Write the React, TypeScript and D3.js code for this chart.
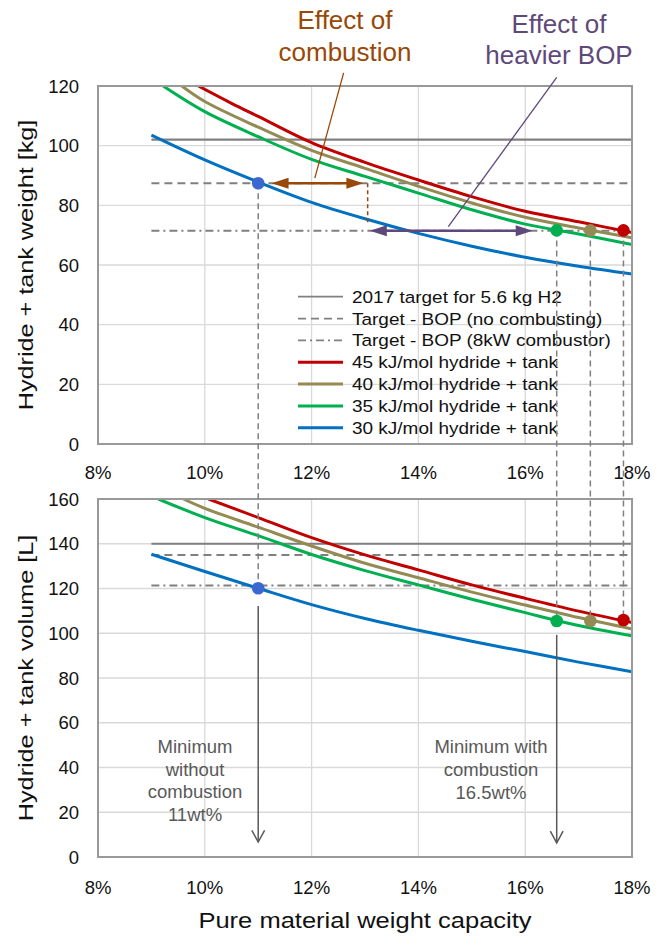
import React from "react";
import * as d3 from "d3";

// ---- data ----
const xTicks = [8, 10, 12, 14, 16, 18];
const weightTicks = [0, 20, 40, 60, 80, 100, 120];
const volumeTicks = [0, 20, 40, 60, 80, 100, 120, 140, 160];

const seriesNames = [
  "45 kJ/mol hydride + tank",
  "40 kJ/mol hydride + tank",
  "35 kJ/mol hydride + tank",
  "30 kJ/mol hydride + tank",
];
const targetNames = [
  "2017 target for 5.6 kg H2",
  "Target - BOP (no combusting)",
  "Target - BOP (8kW combustor)",
];

// weight capacity (%) -> hydride + tank weight (kg)
const weight45X = [9.88, 10.5, 11, 12, 13, 14, 15, 16, 17, 18];
const weight45 = [120, 114.2, 109.8, 101.0, 94.4, 88.5, 82.9, 78.0, 74.5, 70.9];
const weight40X = [9.57, 10, 11, 12, 13, 14, 15, 16, 17, 18];
const weight40 = [120, 114.8, 106.2, 98.4, 92.4, 86.4, 80.8, 76.0, 72.4, 69.1];
const weight35X = [9.22, 10, 11, 12, 13, 14, 15, 16, 17, 18];
const weight35 = [120, 111.4, 103, 95.4, 89.7, 84.1, 78.5, 73.7, 70.4, 66.9];
const weight30X = [9, 10, 11, 12, 13, 14, 15, 16, 17, 18];
const weight30 = [103.5, 95.2, 87.8, 81.0, 75.5, 70.6, 66.3, 62.6, 59.6, 57.0];

// weight capacity (%) -> hydride + tank volume (L)
const volume45X = [10.07, 11, 12, 13, 14, 15, 16, 17, 18];
const volume45 = [160, 151.7, 142.7, 135.0, 128.3, 121.6, 115.6, 109.9, 104.8];
const volume40X = [9.6, 10, 11, 12, 13, 14, 15, 16, 17, 18];
const volume40 = [160, 155.8, 147.4, 139.0, 131.3, 124.8, 118.4, 112.6, 107.0, 101.9];
const volume35X = [9.13, 10, 11, 12, 13, 14, 15, 16, 17, 18];
const volume35 = [160, 151.7, 143.6, 135.2, 128.0, 121.6, 115.2, 109.2, 103.5, 98.9];
const volume30X = [9, 10, 11, 12, 13, 14, 15, 16, 17, 18];
const volume30 = [135.3, 127.6, 120.1, 112.8, 106.6, 101.3, 96.4, 91.8, 87.1, 82.8];

// targets (start at 9%, end at 18%)
const targetRange = [9, 18];
const weightTargets = [102, 87.4, 71.5];
const volumeTargets = [140, 135, 121.3];

// minimum points (45, 40, 35, 30 kJ/mol)
const minX = [17.84, 17.22, 16.59, 11];
const minWeight = [71.6, 71.6, 71.6, 87.4];
const minVolume = [105.9, 105.5, 105.5, 120.1];

// annotations (data units)
const combustionArrow = [11.25, 12.97, 87.4];
const combustionDrop = [13.05, 87.4, 73.8];
const combustionLeader = [12.06, 89.1, 12.6, 124.4];
const bopArrow = [13.09, 16.14, 71.5];
const bopLeader = [14.56, 72.9, 16.59, 122.9];
const downArrows = [
  [11, 112.2, 6.7],
  [16.59, 99.3, 6.3],
];

// ---- styling ----
const W = 667;
const H = 936;
const FONT = "'Liberation Sans', Arial, sans-serif";
const colors = ["#C00000", "#948A54", "#00B050", "#0070C0"];
const dotColors = ["#C00000", "#948A54", "#00B050", "#3B68D0"];
const targetDash = [null, "8,5", "8,4,2,4"];
const GRID = "#D9D9D9";
const TGT = "#808080";
const BROWN = "#984807";
const PURPLE = "#5F497A";
const NOTE = "#595959";

const x = d3.scaleLinear().domain([8, 18]).range([98, 632]);
const yW = d3.scaleLinear().domain([0, 120]).range([444, 86]);
const yV = d3.scaleLinear().domain([0, 160]).range([857, 499]);

const line = (xs, ys, y) =>
  d3
    .line()
    .x((d) => x(d[0]))
    .y((d) => y(d[1]))
    .curve(d3.curveCatmullRom.alpha(0.5))(xs.map((v, i) => [v, ys[i]]));

function Panel({ y, ticks, title, curvesX, curvesY, targets, tickY, id }) {
  const [y0, y1] = y.range();
  return (
    <g>
      <defs>
        <clipPath id={id}>
          <rect x={x(8)} y={y1} width={x(18) - x(8)} height={y0 - y1} />
        </clipPath>
      </defs>
      {xTicks.map((t) => (
        <line key={"gx" + t} x1={x(t)} x2={x(t)} y1={y0} y2={y1} stroke={GRID} strokeWidth={1.3} />
      ))}
      {ticks.map((t) => (
        <line key={"gy" + t} x1={x(8)} x2={x(18)} y1={y(t)} y2={y(t)} stroke={GRID} strokeWidth={1.3} />
      ))}
      {targets.map((v, i) => (
        <line
          key={"t" + i}
          x1={x(targetRange[0])}
          x2={x(targetRange[1])}
          y1={y(v)}
          y2={y(v)}
          stroke={TGT}
          strokeWidth={i === 0 ? 2.2 : 2}
          strokeDasharray={targetDash[i] || undefined}
        />
      ))}
      <g clipPath={`url(#${id})`}>
        {curvesX.map((xs, i) => (
          <path key={"c" + i} d={line(xs, curvesY[i], y)} fill="none" stroke={colors[i]} strokeWidth={3} />
        ))}
      </g>
      <rect x={x(8)} y={y1} width={x(18) - x(8)} height={y0 - y1} fill="none" stroke="#999" strokeWidth={2} />
      {ticks.map((t) => (
        <text key={"ly" + t} x={79} y={y(t) + 6.5} textAnchor="end" fontSize={18.5} fill="#111">
          {t}
        </text>
      ))}
      {xTicks.map((t) => (
        <text key={"lx" + t} x={x(t)} y={tickY} textAnchor="middle" fontSize={18.5} fill="#111">
          {t + "%"}
        </text>
      ))}
      <text
        transform={`translate(33,${(y0 + y1) / 2}) rotate(-90) scale(1.2,1)`}
        textAnchor="middle"
        fontSize={21}
        fill="#111"
      >
        {title}
      </text>
    </g>
  );
}

function DoubleArrow({ x1, x2, yy, color }) {
  const a = x(x1);
  const b = x(x2);
  const hl = 17;
  const hw = 5.5;
  return (
    <g fill={color}>
      <line x1={a + hl - 2} x2={b - hl + 2} y1={yy} y2={yy} stroke={color} strokeWidth={2.5} />
      <polygon points={`${a},${yy} ${a + hl},${yy - hw} ${a + hl},${yy + hw}`} />
      <polygon points={`${b},${yy} ${b - hl},${yy - hw} ${b - hl},${yy + hw}`} />
    </g>
  );
}

export default function App() {
  const weightX = [weight45X, weight40X, weight35X, weight30X];
  const weightY = [weight45, weight40, weight35, weight30];
  const volumeX = [volume45X, volume40X, volume35X, volume30X];
  const volumeY = [volume45, volume40, volume35, volume30];
  const legend = [...targetNames, ...seriesNames];

  return (
    <svg
      width={W}
      height={H}
      style={{ position: "absolute", left: 0, top: 0, background: "#fff" }}
      fontFamily={FONT}
    >
      <rect width={W} height={H} fill="#fff" />
      <Panel
        id="clipW"
        y={yW}
        ticks={weightTicks}
        title="Hydride + tank weight [kg]"
        curvesX={weightX}
        curvesY={weightY}
        targets={weightTargets}
        tickY={479}
      />
      <Panel
        id="clipV"
        y={yV}
        ticks={volumeTicks}
        title="Hydride + tank volume [L]"
        curvesX={volumeX}
        curvesY={volumeY}
        targets={volumeTargets}
        tickY={894}
      />

      {/* legend */}
      {legend.map((name, i) => {
        const cy = 296.7 + i * 21.85;
        const isTarget = i < 3;
        return (
          <g key={"lg" + i}>
            <line
              x1={298}
              x2={343}
              y1={cy}
              y2={cy}
              stroke={isTarget ? TGT : colors[i - 3]}
              strokeWidth={isTarget ? 1.8 : 3}
              strokeDasharray={isTarget ? targetDash[i] || undefined : undefined}
            />
            <text transform={`translate(352,${cy + 6}) scale(1.15,1)`} fontSize={16.5} fill="#111">
              {name}
            </text>
          </g>
        );
      })}

      {/* drop lines between the panels */}
      {minX.map((v, i) => (
        <line
          key={"dl" + i}
          x1={x(v)}
          x2={x(v)}
          y1={yW(minWeight[i])}
          y2={yV(minVolume[i])}
          stroke={TGT}
          strokeWidth={1.5}
          strokeDasharray="6,4"
        />
      ))}

      {/* effect of combustion */}
      <line
        x1={x(combustionDrop[0])}
        x2={x(combustionDrop[0])}
        y1={yW(combustionDrop[1])}
        y2={yW(combustionDrop[2])}
        stroke={BROWN}
        strokeWidth={1.5}
        strokeDasharray="4,3"
      />
      <DoubleArrow x1={combustionArrow[0]} x2={combustionArrow[1]} yy={yW(combustionArrow[2])} color={BROWN} />
      <line
        x1={x(combustionLeader[0])}
        y1={yW(combustionLeader[1])}
        x2={x(combustionLeader[2])}
        y2={yW(combustionLeader[3])}
        stroke={BROWN}
        strokeWidth={1.3}
      />
      <text x={345} y={29} textAnchor="middle" fontSize={26} fill={BROWN}>
        Effect of
      </text>
      <text x={345} y={61} textAnchor="middle" fontSize={26} fill={BROWN}>
        combustion
      </text>

      {/* effect of heavier BOP */}
      <DoubleArrow x1={bopArrow[0]} x2={bopArrow[1]} yy={yW(bopArrow[2])} color={PURPLE} />
      <line
        x1={x(bopLeader[0])}
        y1={yW(bopLeader[1])}
        x2={x(bopLeader[2])}
        y2={yW(bopLeader[3])}
        stroke={PURPLE}
        strokeWidth={1.3}
      />
      <text x={559} y={33} textAnchor="middle" fontSize={26} fill={PURPLE}>
        Effect of
      </text>
      <text x={559} y={64} textAnchor="middle" fontSize={26} fill={PURPLE}>
        heavier BOP
      </text>

      {/* minimum points */}
      {minX.map((v, i) => (
        <g key={"dot" + i}>
          <circle cx={x(v)} cy={yW(minWeight[i])} r={6.3} fill={dotColors[i]} />
          <circle cx={x(v)} cy={yV(minVolume[i])} r={6.3} fill={dotColors[i]} />
        </g>
      ))}

      {/* downward arrows and notes */}
      {downArrows.map(([v, from, to], i) => {
        const px = x(v);
        const y2 = yV(to);
        return (
          <g key={"da" + i} stroke={NOTE} strokeWidth={1.5} fill="none">
            <line x1={px} x2={px} y1={yV(from)} y2={y2} />
            <polyline points={`${px - 6.4},${y2 - 11.7} ${px},${y2} ${px + 6.4},${y2 - 11.7}`} />
          </g>
        );
      })}
      <g fontSize={18.5} fill={NOTE} textAnchor="middle">
        <text x={195} y={753}>Minimum</text>
        <text x={195} y={775.5}>without</text>
        <text x={195} y={798}>combustion</text>
        <text x={195} y={820.5}>11wt%</text>
        <text x={491} y={753}>Minimum with</text>
        <text x={491} y={776}>combustion</text>
        <text x={491} y={798.5}>16.5wt%</text>
      </g>

      <text transform="translate(365,928) scale(1.16,1)" textAnchor="middle" fontSize={22} fill="#111">
        Pure material weight capacity
      </text>
    </svg>
  );
}
